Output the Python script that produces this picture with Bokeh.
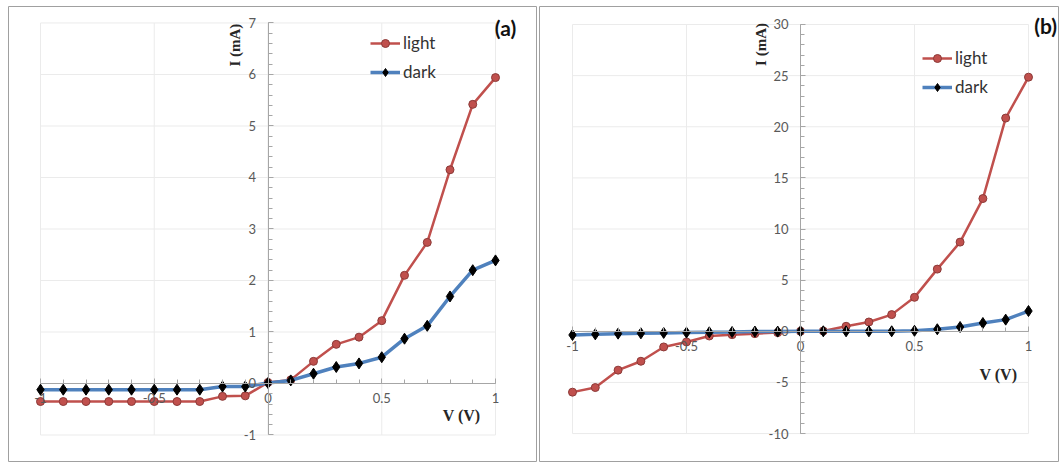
import math
from bokeh.plotting import figure
from bokeh.layouts import row
from bokeh.models import (LinearAxis, SingleIntervalTicker, Range1d, Label, Legend,
                          LegendItem, NumeralTickFormatter)
from bokeh.embed import file_html
from bokeh.resources import INLINE

# ---------------- data ----------------
voltage = [-1.0, -0.9, -0.8, -0.7, -0.6, -0.5, -0.4, -0.3, -0.2, -0.1, 0.0,
           0.1, 0.2, 0.3, 0.4, 0.5, 0.6, 0.7, 0.8, 0.9, 1.0]

light_a = [-0.35, -0.35, -0.35, -0.35, -0.35, -0.35, -0.35, -0.35, -0.25, -0.24, 0.02,
           0.07, 0.43, 0.76, 0.90, 1.22, 2.10, 2.74, 4.15, 5.42, 5.94]
dark_a = [-0.12, -0.12, -0.12, -0.12, -0.12, -0.12, -0.12, -0.12, -0.06, -0.06, 0.01,
          0.06, 0.19, 0.32, 0.39, 0.51, 0.87, 1.12, 1.69, 2.20, 2.39]

light_b = [-5.95, -5.5, -3.8, -2.93, -1.53, -1.04, -0.46, -0.33, -0.23, -0.13, 0.0,
           0.03, 0.49, 0.91, 1.63, 3.32, 6.08, 8.72, 12.98, 20.85, 24.85]
dark_b = [-0.36, -0.3, -0.23, -0.2, -0.16, -0.13, -0.1, -0.07, -0.03, -0.03, 0.0,
          0.0, 0.0, 0.0, 0.0, 0.05, 0.2, 0.42, 0.81, 1.14, 1.98]

x_ticks = [-1, -0.5, 0, 0.5, 1]
y_ticks_a = [-1, 0, 1, 2, 3, 4, 5, 6, 7]
y_ticks_b = [-10, -5, 0, 5, 10, 15, 20, 25, 30]

series_labels = ["light", "dark"]
x_title = "V (V)"
y_title = "I (mA)"

# ---------------- style ----------------
SANS = "Lato"
SERIF = "Liberation Serif"
AXIS_COL = "#A6A6A6"
GRID_COL = "#EBEBEB"
TICK_TXT = "#595959"
RED = "#C0504D"
RED_EDGE = "#8C3A38"
BLUE = "#4F81BD"


def panel(width, height, xr, yr, border, y_ticks, y_interval, light, dark,
          tag, tag_pos, xt_pos, yt_pos, legend_loc):
    p = figure(width=width, height=height, x_range=Range1d(*xr), y_range=Range1d(*yr),
               output_backend="svg", toolbar_location=None,
               x_axis_location=None, y_axis_location=None,
               min_border_left=border[0], min_border_right=border[1],
               min_border_top=border[2], min_border_bottom=border[3],
               background_fill_color="white", border_fill_color="white")
    p.grid.visible = False
    p.outline_line_color = "#A0A0A0"
    p.outline_line_width = 1

    # gridlines limited to the plot area
    xmin, xmax = x_ticks[0], x_ticks[-1]
    ymin, ymax = y_ticks[0], y_ticks[-1]
    p.segment(x0=[xmin] * len(y_ticks), y0=y_ticks, x1=[xmax] * len(y_ticks), y1=y_ticks,
              line_color=GRID_COL, line_width=1)
    p.segment(x0=x_ticks, y0=[ymin] * len(x_ticks), x1=x_ticks, y1=[ymax] * len(x_ticks),
              line_color=GRID_COL, line_width=1)

    # axes crossing at zero
    xa = LinearAxis(fixed_location=0, ticker=SingleIntervalTicker(interval=0.5, num_minor_ticks=5),
                    bounds=(xmin, xmax), formatter=NumeralTickFormatter(format="0.[0]"))
    ya = LinearAxis(fixed_location=0, ticker=SingleIntervalTicker(interval=y_interval, num_minor_ticks=5),
                    bounds=(ymin, ymax), formatter=NumeralTickFormatter(format="0"))
    for ax, stand in ((xa, 10), (ya, 12)):
        ax.axis_line_color = AXIS_COL
        ax.axis_line_width = 1
        ax.major_tick_line_color = AXIS_COL
        ax.minor_tick_line_color = AXIS_COL
        ax.major_tick_in = 5
        ax.major_tick_out = 0
        ax.minor_tick_in = 4
        ax.minor_tick_out = 0
        ax.major_label_standoff = stand
        ax.major_label_text_font = SANS
        ax.major_label_text_font_size = "13px"
        ax.major_label_text_color = TICK_TXT
    p.add_layout(xa, "below")
    p.add_layout(ya, "left")

    # data
    l1 = p.line(voltage, light, line_color=RED, line_width=2.5)
    s1 = p.scatter(voltage, light, marker="circle", size=8, fill_color=RED,
                   line_color=RED_EDGE, line_width=1)
    l2 = p.line(voltage, dark, line_color=BLUE, line_width=3.5)
    s2 = p.scatter(voltage, dark, marker="diamond", size=11,
                   fill_color="black", line_color="black", line_width=1)

    legend = Legend(items=[LegendItem(label=series_labels[0], renderers=[l1, s1]),
                           LegendItem(label=series_labels[1], renderers=[l2, s2])],
                    location=legend_loc, glyph_width=30, glyph_height=20, label_height=20,
                    label_standoff=3, spacing=8, padding=0, margin=0,
                    border_line_color=None, background_fill_alpha=0,
                    label_text_font=SANS, label_text_font_size="17px",
                    label_text_color="#333333")
    p.add_layout(legend)

    p.add_layout(Label(x=tag_pos[0], y=tag_pos[1], text=tag, text_font=SANS,
                       text_font_style="bold", text_font_size="21px", text_color="#111111",
                       text_align="center", text_baseline="middle"))
    p.add_layout(Label(x=xt_pos[0], y=xt_pos[1], text=x_title, text_font=SERIF,
                       text_font_style="bold", text_font_size="16px", text_color="#262626",
                       text_align="center", text_baseline="middle"))
    p.add_layout(Label(x=yt_pos[0], y=yt_pos[1], text=y_title, text_font=SERIF,
                       text_font_style="bold", text_font_size="15px", text_color="#262626",
                       text_align="center", text_baseline="middle", angle=math.pi / 2))
    return p


pa = panel(537, 462, (-1.1407, 1.1802), (-1.534, 7.320), (8, 1, 6, 0), y_ticks_a, 1,
           light_a, dark_a, "(a)", (1.044, 6.92), (0.851, -0.63), (-0.143, 6.57), (362, 380))
pb = panel(522, 462, (-1.1447, 1.136), (-12.83, 31.76), (2, 0, 5, 0), y_ticks_b, 5,
           light_b, dark_b, "(b)", (1.075, 29.9), (0.868, -4.24), (-0.175, 28.05), (383, 365))

layout = row(pa, pb)
open("out.html", "w").write(file_html(layout, INLINE))
